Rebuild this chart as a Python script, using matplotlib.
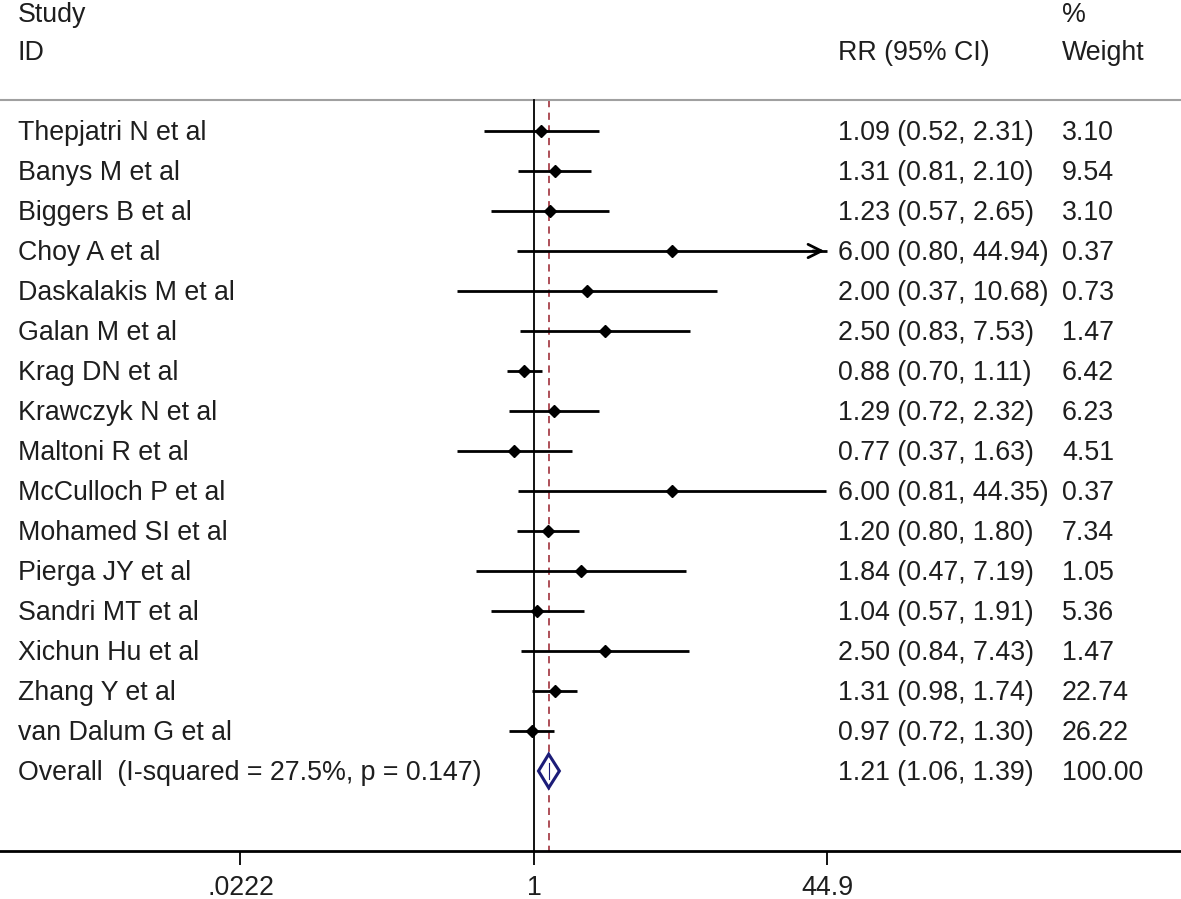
import numpy as np
import matplotlib
matplotlib.use('Agg')
import matplotlib.pyplot as plt

# study rows
studies = ['Thepjatri N et al', 'Banys M et al', 'Biggers B et al', 'Choy A et al',
           'Daskalakis M et al', 'Galan M et al', 'Krag DN et al', 'Krawczyk N et al',
           'Maltoni R et al', 'McCulloch P et al', 'Mohamed SI et al', 'Pierga JY et al',
           'Sandri MT et al', 'Xichun Hu et al', 'Zhang Y et al', 'van Dalum G et al']
rr = [1.09, 1.31, 1.23, 6.00, 2.00, 2.50, 0.88, 1.29, 0.77, 6.00, 1.20, 1.84, 1.04, 2.50, 1.31, 0.97]
lo = [0.52, 0.81, 0.57, 0.80, 0.37, 0.83, 0.70, 0.72, 0.37, 0.81, 0.80, 0.47, 0.57, 0.84, 0.98, 0.72]
hi = [2.31, 2.10, 2.65, 44.94, 10.68, 7.53, 1.11, 2.32, 1.63, 44.35, 1.80, 7.19, 1.91, 7.43, 1.74, 1.30]
weight = [3.10, 9.54, 3.10, 0.37, 0.73, 1.47, 6.42, 6.23, 4.51, 0.37, 7.34, 1.05, 5.36, 1.47, 22.74, 26.22]

overall_label = 'Overall  (I-squared = 27.5%, p = 0.147)'
overall = [1.21, 1.06, 1.39]
overall_w = 100.00

ticks = [0.0222, 1, 44.9]
tick_labels = ['.0222', '1', '44.9']

plt.rcParams['font.family'] = ['Liberation Sans', 'DejaVu Sans']
fs = 19.3
tc = '#1e1e1e'

fig = plt.figure(figsize=(11.81, 8.99), dpi=100)
ax = fig.add_axes([0, 48/899, 1, 851/899])
ax.set_xscale('log')
ax.set_xlim(10**(-534/177.5), 10**((1181-534)/177.5))
ax.set_ylim(18.0, -3.275)
tr = ax.get_yaxis_transform()

n = len(studies)
xmax = ticks[-1]
for i in range(n):
    h = min(hi[i], xmax)
    ax.plot([lo[i], h], [i, i], color='black', lw=2.0, solid_capstyle='butt', zorder=3)
    if hi[i] > xmax:
        ax.annotate('', xy=(xmax, i), xytext=(xmax*0.8, i),
                    arrowprops=dict(arrowstyle='->', color='black', lw=2.0,
                                    mutation_scale=24), zorder=3)
    ax.plot(rr[i], i, marker='D', color='black', markersize=6.5, zorder=4)
    ax.text(18/1181, i + 0.04, studies[i], transform=tr, va='center',
            ha='left', fontsize=fs, color=tc)
    ax.text(838/1181, i + 0.04, '%.2f (%.2f, %.2f)' % (rr[i], lo[i], hi[i]),
            transform=tr, va='center', ha='left', fontsize=fs, color=tc)
    ax.text(1062/1181, i + 0.04, '%.2f' % weight[i], transform=tr,
            va='center', ha='left', fontsize=fs, color=tc)

# overall diamond
yo = n
est, l, u = overall
ax.fill([l, est, u, est, l], [yo, yo - 0.42, yo, yo + 0.42, yo], facecolor='white',
        edgecolor='#1c1c78', lw=2.2, zorder=4)
ax.plot([est, est], [yo - 0.2, yo + 0.2], color='#1c1c78', lw=0.8, zorder=5)
ax.text(18/1181, yo + 0.04, overall_label, transform=tr, va='center',
        ha='left', fontsize=fs, color=tc)
ax.text(838/1181, yo + 0.04, '%.2f (%.2f, %.2f)' % (est, l, u), transform=tr,
        va='center', ha='left', fontsize=fs, color=tc)
ax.text(1062/1181, yo + 0.04, '%.2f' % overall_w, transform=tr,
        va='center', ha='left', fontsize=fs, color=tc)

# headers
ax.text(18/1181, -2.9, 'Study', transform=tr, va='center', ha='left', fontsize=fs, color=tc)
ax.text(18/1181, -1.95, 'ID', transform=tr, va='center', ha='left', fontsize=fs, color=tc)
ax.text(838/1181, -1.95, 'RR (95% CI)', transform=tr, va='center', ha='left', fontsize=fs, color=tc)
ax.text(1062/1181, -2.9, '%', transform=tr, va='center', ha='left', fontsize=fs, color=tc)
ax.text(1062/1181, -1.95, 'Weight', transform=tr, va='center', ha='left', fontsize=fs, color=tc)
ax.axhline(-0.775, color='#a0a0a0', lw=1.5)

# reference lines
ax.plot([1, 1], [-0.775, 18.0], color='black', lw=1.3, zorder=2)
ax.plot([est, est], [-0.775, 18.0], color='#a8414b', lw=1.3, dashes=(4, 3), zorder=1)

for s in ['top', 'left', 'right']:
    ax.spines[s].set_visible(False)
ax.spines['bottom'].set_linewidth(2)
ax.set_yticks([])
ax.set_xticks(ticks)
ax.set_xticklabels(tick_labels)
ax.minorticks_off()
ax.tick_params(axis='x', length=10, width=1.3, pad=7, labelsize=fs, labelcolor=tc)

fig.savefig('out.png', dpi=100)
